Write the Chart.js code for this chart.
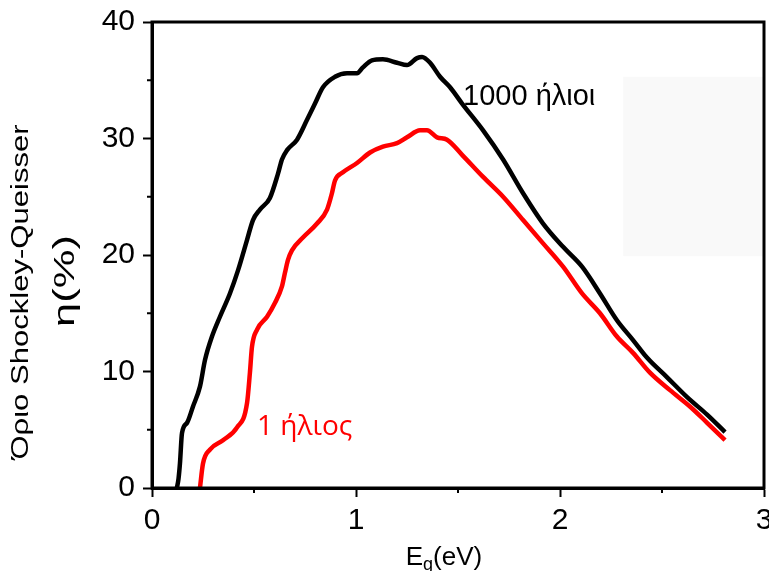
<!DOCTYPE html>
<html>
<head>
<meta charset="utf-8">
<script src="https://cdn.jsdelivr.net/npm/chart.js@4.4.1/dist/chart.umd.min.js"></script>
<style>
  html, body { margin: 0; padding: 0; background: #fff; }
  #wrap { width: 769px; height: 571px; }
</style>
</head>
<body>
<div id="wrap"><canvas id="chart" width="769" height="571"></canvas></div>
<script>
// 1000 suns (black)
const blackE = [0.122, 0.13, 0.137, 0.147, 0.172, 0.201, 0.235, 0.26, 0.294, 0.333, 0.382, 0.422, 0.466, 0.495, 0.529, 0.578, 0.618, 0.637, 0.662, 0.711, 0.76, 0.799, 0.838, 0.897, 0.956, 1.005, 1.034, 1.078, 1.132, 1.201, 1.25, 1.299, 1.324, 1.363, 1.412, 1.461, 1.52, 1.623, 1.721, 1.819, 1.917, 2.015, 2.108, 2.196, 2.279, 2.358, 2.426, 2.525, 2.623, 2.721, 2.809];
const blackEta = [0, 0.8, 2.1, 4.7, 5.6, 7.0, 8.7, 11.0, 13.0, 14.7, 16.7, 18.7, 21.3, 23.0, 23.9, 24.9, 27.0, 28.2, 29.0, 29.9, 31.6, 33.0, 34.4, 35.3, 35.6, 35.6, 36.1, 36.7, 36.8, 36.5, 36.3, 36.9, 37.0, 36.5, 35.3, 34.4, 33.0, 30.7, 28.2, 25.3, 22.7, 20.7, 19.0, 16.7, 14.4, 12.7, 11.2, 9.5, 7.8, 6.3, 4.8];

// 1 sun (red)
const redE = [0.235, 0.25, 0.284, 0.348, 0.417, 0.466, 0.48, 0.49, 0.515, 0.564, 0.603, 0.637, 0.652, 0.667, 0.686, 0.74, 0.809, 0.858, 0.882, 0.897, 0.936, 1.005, 1.069, 1.132, 1.201, 1.25, 1.314, 1.348, 1.397, 1.446, 1.52, 1.623, 1.721, 1.819, 1.917, 2.015, 2.108, 2.196, 2.279, 2.358, 2.441, 2.539, 2.637, 2.721, 2.809];
const redEta = [0, 2.1, 3.3, 4.1, 5.2, 7.3, 9.9, 12.1, 13.6, 14.7, 15.9, 17.3, 18.5, 19.6, 20.4, 21.5, 22.7, 23.9, 25.3, 26.4, 27.1, 27.9, 28.8, 29.3, 29.6, 30.1, 30.7, 30.7, 30.1, 29.9, 28.6, 26.7, 25.0, 23.0, 21.0, 19.0, 16.7, 15.0, 13.0, 11.6, 9.9, 8.4, 7.0, 5.6, 4.1];

const xTickLabels = [0, 1, 2, 3];
const yTickLabels = [0, 10, 20, 30, 40];

const seriesLabels = ["1000 ήλιοι", "1 ήλιος"];

const toPoints = (xs, ys) => xs.map((x, i) => ({ x: x, y: ys[i] }));

const FONT = "'Liberation Sans', Arial, sans-serif";
const RED = "#ff0000";

// frame, minor ticks, axis titles, curve labels, faint box
const decor = {
  id: "decor",
  beforeDatasetsDraw(chart) {
    const { ctx, scales: { x, y } } = chart;
    ctx.save();
    ctx.fillStyle = "#f9f9f9";
    const l = x.getPixelForValue(2.31), r = chart.chartArea.right;
    const t = y.getPixelForValue(35.3), b = y.getPixelForValue(19.9);
    ctx.fillRect(l, t, r - l, b - t);
    ctx.restore();
  },
  afterDraw(chart) {
    const { ctx, chartArea: a, scales: { x, y } } = chart;
    ctx.save();
    ctx.strokeStyle = "#000";
    ctx.lineWidth = 3;
    ctx.strokeRect(a.left, a.top, a.right - a.left, a.bottom - a.top);

    // minor ticks
    ctx.lineWidth = 2;
    ctx.beginPath();
    [0.5, 1.5, 2.5].forEach(v => {
      const px = x.getPixelForValue(v);
      ctx.moveTo(px, a.bottom); ctx.lineTo(px, a.bottom + 5);
    });
    [5, 15, 25, 35].forEach(v => {
      const py = y.getPixelForValue(v);
      ctx.moveTo(a.left, py); ctx.lineTo(a.left - 5, py);
    });
    ctx.stroke();

    // y axis titles
    ctx.fillStyle = "#000";
    ctx.textAlign = "center";
    ctx.textBaseline = "middle";
    ctx.save();
    ctx.translate(22, 292);
    ctx.rotate(-Math.PI / 2);
    ctx.scale(1.35, 1);
    ctx.font = "23px " + FONT;
    ctx.fillText("Όριο Shockley-Queisser", 0, 0);
    ctx.restore();
    ctx.save();
    ctx.translate(66, 281);
    ctx.rotate(-Math.PI / 2);
    ctx.scale(1.45, 1);
    ctx.font = "30px " + FONT;
    ctx.fillText("η(%)", 0, 0);
    ctx.restore();

    // x axis title E_g(eV)
    ctx.textAlign = "left";
    ctx.textBaseline = "alphabetic";
    ctx.font = "26px " + FONT;
    const wE = ctx.measureText("E").width;
    ctx.font = "18px " + FONT;
    const wg = ctx.measureText("g").width;
    ctx.font = "26px " + FONT;
    const wR = ctx.measureText("(eV)").width;
    let sx = 444 - (wE + wg + wR) / 2;
    const base = 565;
    ctx.fillText("E", sx, base);
    ctx.font = "18px " + FONT;
    ctx.fillText("g", sx + wE, base + 5);
    ctx.font = "26px " + FONT;
    ctx.fillText("(eV)", sx + wE + wg, base);

    // curve labels
    ctx.font = "29px " + FONT;
    ctx.fillStyle = "#000";
    ctx.fillText(seriesLabels[0], x.getPixelForValue(1.525), y.getPixelForValue(32.9));
    ctx.font = "28px 'Open Sans', sans-serif";
    ctx.fillStyle = RED;
    ctx.fillText(seriesLabels[1], x.getPixelForValue(0.515), y.getPixelForValue(4.55));
    ctx.restore();
  }
};

new Chart(document.getElementById("chart").getContext("2d"), {
  type: "scatter",
  data: {
    datasets: [
      {
        label: seriesLabels[0],
        data: toPoints(blackE, blackEta),
        showLine: true,
        borderColor: "#000",
        borderWidth: 4.5,
        pointRadius: 0,
        cubicInterpolationMode: "monotone",
      },
      {
        label: seriesLabels[1],
        data: toPoints(redE, redEta),
        showLine: true,
        borderColor: RED,
        borderWidth: 4.5,
        pointRadius: 0,
        cubicInterpolationMode: "monotone",
      },
    ],
  },
  options: {
    responsive: false,
    animation: false,
    layout: { autoPadding: false, padding: { top: 22, right: 5, left: 0, bottom: 0 } },
    plugins: { legend: { display: false }, tooltip: { enabled: false } },
    scales: {
      x: {
        type: "linear",
        min: 0,
        max: 3,
        afterFit: s => { s.height = 83; s.paddingLeft = 0; s.paddingRight = 0; },
        afterBuildTicks: s => { s.ticks = xTickLabels.map(v => ({ value: v })); },
        ticks: { color: "#000", font: { size: 30, family: FONT }, padding: 6, maxRotation: 0 },
        grid: { drawOnChartArea: false, tickLength: 9, tickWidth: 2, tickColor: "#000" },
        border: { display: true, color: "#000", width: 3 },
      },
      y: {
        type: "linear",
        min: 0,
        max: 40,
        afterFit: s => { s.width = 152; s.paddingTop = 0; s.paddingBottom = 0; },
        afterBuildTicks: s => { s.ticks = yTickLabels.map(v => ({ value: v })); },
        ticks: { color: "#000", font: { size: 30, family: FONT }, padding: 8 },
        grid: { drawOnChartArea: false, tickLength: 9, tickWidth: 2, tickColor: "#000" },
        border: { display: true, color: "#000", width: 3 },
      },
    },
  },
  plugins: [decor],
});
</script>
</body>
</html>
